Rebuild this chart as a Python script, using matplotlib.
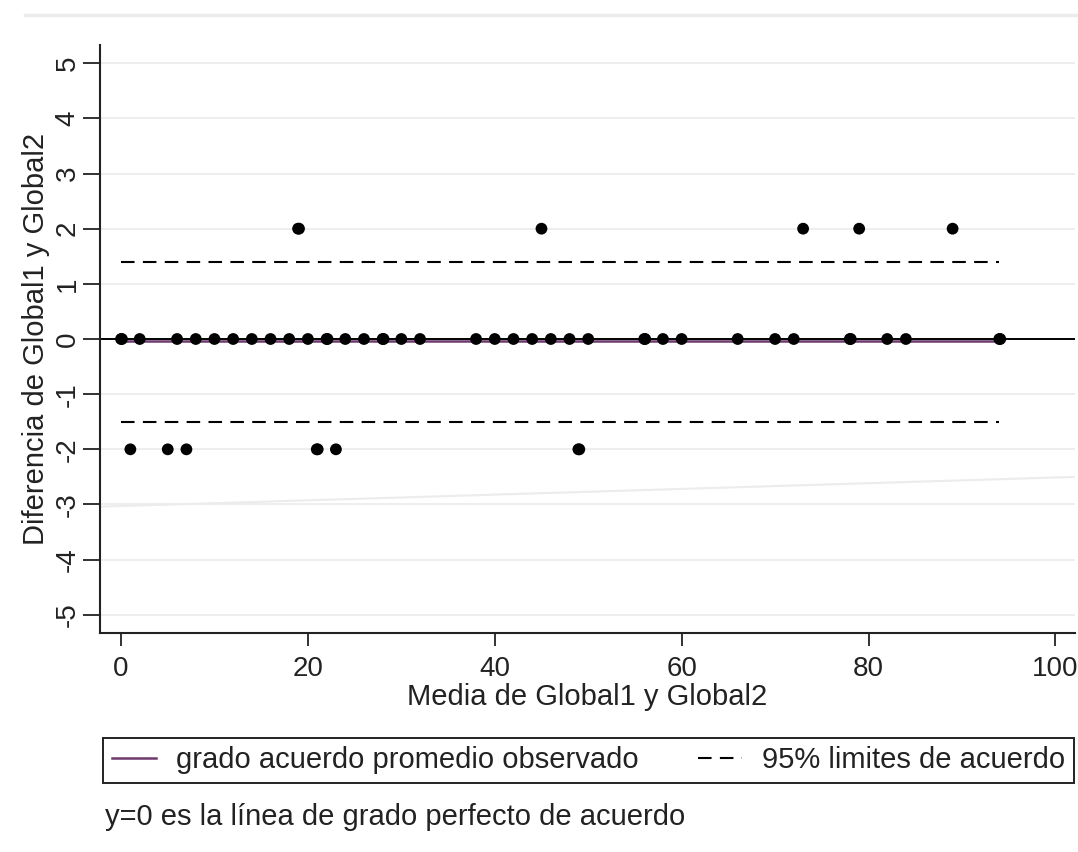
import matplotlib.pyplot as plt
from matplotlib.lines import Line2D

plt.rcParams['font.family'] = ['Liberation Sans', 'DejaVu Sans']
plt.rcParams['axes.unicode_minus'] = False

# medias (x) y diferencias (y)
media_cero = [0, 0.1, 2, 6, 8, 10, 12, 14, 16, 18, 20, 22, 22.1, 24, 26, 28, 28.1,
              30, 32, 38, 40, 42, 44, 46, 48, 50, 56, 56.1, 58, 60, 66, 70, 72,
              78, 78.1, 82, 84, 94, 94.1]
media_mas2 = [18.95, 19.05, 45, 73, 79, 89]
media_menos2 = [1, 5, 7, 20.95, 21.05, 23, 48.95, 49.05]

media = media_cero + media_mas2 + media_menos2
difer = [0] * len(media_cero) + [2] * len(media_mas2) + [-2] * len(media_menos2)

dif_media = -0.04
lim_sup = 1.4
lim_inf = -1.5
x_min, x_max = 0, 94

# linea tenue de fondo (tendencia)
tend_x = [-2.25, 102.1]
tend_y = [-3.04, -2.5]

fig = plt.figure(figsize=(10.78, 8.52), dpi=100)
ax = fig.add_axes([100 / 1078, 1 - 633 / 852, 975 / 1078, 588 / 852])

ax.set_xlim(-2.25, 102.1)
ax.set_ylim(-5.33, 5.33)

for yv in range(-5, 6):
    ax.axhline(yv, color='#ebebeb', lw=1.2, zorder=0)
ax.plot(tend_x, tend_y, color='#ececec', lw=1.5, zorder=0)

ax.axhline(0, color='black', lw=1.4, zorder=1)
ax.plot([x_min, x_max], [dif_media, dif_media], color='#6e3a6e', lw=1.8, zorder=2,
        label='grado acuerdo promedio observado')
ax.plot([x_min, x_max], [lim_sup, lim_sup], color='black', lw=1.5, dashes=(6.5, 4),
        zorder=2, label='95% limites de acuerdo')
ax.plot([x_min, x_max], [lim_inf, lim_inf], color='black', lw=1.5, dashes=(6.5, 4),
        zorder=2)
ax.scatter(media, difer, s=72, color='black', edgecolors='none', zorder=3)

for s in ['top', 'right']:
    ax.spines[s].set_visible(False)
for s in ['left', 'bottom']:
    ax.spines[s].set_linewidth(1.5)
    ax.spines[s].set_color('#222222')

ax.set_xticks(range(0, 101, 20))
ax.set_yticks(range(-5, 6))
ax.tick_params(axis='x', length=9.5, width=1.3, pad=7, labelsize=20, colors='#222222')
ax.tick_params(axis='y', length=12, width=1.3, pad=2, labelsize=20, colors='#222222')
for lab in ax.get_yticklabels():
    lab.set_rotation(90)
    lab.set_va('center')

ax.set_xlabel('Media de Global1 y Global2', fontsize=21, color='#222222', labelpad=1)
ax.set_ylabel('Diferencia de Global1 y Global2', fontsize=21, color='#222222', labelpad=3)

leg = fig.legend(loc='center', ncol=2, mode='expand',
                 bbox_to_anchor=(103 / 1078, 1 - 788 / 852, 971 / 1078, 55 / 852),
                 fontsize=21, handlelength=1.5, handletextpad=0.7, borderpad=0.3,
                 frameon=True, fancybox=False, framealpha=1, borderaxespad=0)
leg.get_frame().set_edgecolor('#222222')
leg.get_frame().set_linewidth(1.4)
for t in leg.get_texts():
    t.set_color('#222222')

fig.text(105 / 1078, 1 - 817 / 852, 'y=0 es la línea de grado perfecto de acuerdo',
         fontsize=21, color='#222222', va='center', ha='left')

fig.add_artist(Line2D([25 / 1078, 1], [1 - 15 / 852, 1 - 15 / 852],
                      color='#ececec', lw=2.5, transform=fig.transFigure))

fig.savefig('out.png', dpi=100)
